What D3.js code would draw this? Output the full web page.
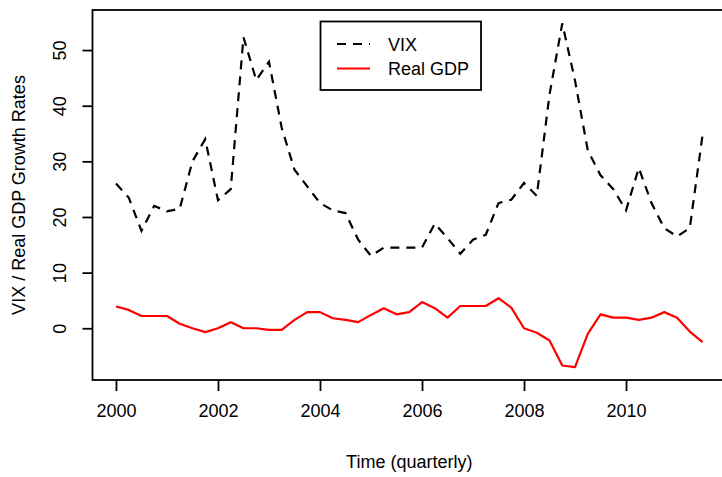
<!DOCTYPE html>
<html>
<head>
<meta charset="utf-8">
<script src="https://cdn.jsdelivr.net/npm/d3@7"></script>
<style>
body { margin: 0; background: #fff; }
text { font-family: "Liberation Sans", Arial, sans-serif; fill: #000; }
</style>
</head>
<body>
<div id="chart"></div>
<script>
// quarterly series, first value is 2000 Q1
var startYear = 2000;
var vix = [26.0, 23.5, 17.5, 22.0, 21.0, 21.5, 30.0, 34.0, 23.0, 25.0,
           52.3, 44.6, 47.9, 36.0, 28.5, 25.5, 22.5, 21.2, 20.7, 15.9,
           13.0, 14.5, 14.5, 14.5, 14.5, 18.8, 16.2, 13.4, 15.9, 16.8,
           22.5, 23.1, 26.1, 23.8, 42.0, 54.8, 44.5, 32.0, 27.5, 25.0,
           21.2, 28.8, 22.5, 18.0, 16.5, 18.0, 34.7];
var gdp = [3.9, 3.3, 2.2, 2.2, 2.2, 0.8, 0.0, -0.7, 0.0, 1.1,
           0.0, 0.0, -0.3, -0.3, 1.5, 2.9, 2.9, 1.8, 1.5, 1.1,
           2.4, 3.6, 2.5, 2.9, 4.7, 3.6, 1.9, 4.0, 4.0, 4.0,
           5.4, 3.7, 0.0, -0.8, -2.2, -6.7, -7.0, -1.0, 2.5, 1.9,
           1.9, 1.5, 1.9, 2.9, 1.9, -0.6, -2.5];
var xTicks = [2000, 2002, 2004, 2006, 2008, 2010];
var yTicks = [0, 10, 20, 30, 40, 50];
var seriesNames = ["VIX", "Real GDP"];

function init() {
    var w = 722;
    var h = 477;
    var left = 92.5, top = 10, right = 726, bottom = 380;

    var svg = d3.select("#chart")
        .append("svg")
        .attr("width", w)
        .attr("height", h);

    var times = vix.map(function(d, i) { return startYear + i / 4; });

    // R style: data range widened by 4% on each side
    var xExt = d3.extent(times);
    var pad = (xExt[1] - xExt[0]) * 0.04;
    var x = d3.scaleLinear()
        .domain([xExt[0] - pad, xExt[1] + pad])
        .range([left, right]);
    var y = d3.scaleLinear()
        .domain([-9.3, 57.2])
        .range([bottom, top]);

    var line = function(vals) {
        return d3.line()
            .x(function(d, i) { return x(times[i]); })
            .y(function(d) { return y(d); })(vals);
    };

    svg.append("path")
        .attr("d", line(vix))
        .attr("fill", "none")
        .attr("stroke", "#000")
        .attr("stroke-width", 2.2)
        .attr("stroke-dasharray", "9,7");

    svg.append("path")
        .attr("d", line(gdp))
        .attr("fill", "none")
        .attr("stroke", "#ff0000")
        .attr("stroke-width", 2.2)
        .attr("stroke-linejoin", "round");

    // box
    svg.append("rect")
        .attr("x", left)
        .attr("y", top)
        .attr("width", right - left)
        .attr("height", bottom - top)
        .attr("fill", "none")
        .attr("stroke", "#000")
        .attr("stroke-width", 1.8);

    var xAxis = svg.append("g")
        .attr("transform", "translate(0," + bottom + ")")
        .call(d3.axisBottom(x).tickValues(xTicks).tickSize(11).tickPadding(13).tickFormat(d3.format("d")));
    xAxis.select(".domain").remove();
    xAxis.selectAll("line").attr("stroke-width", 1.8);
    xAxis.selectAll("text").attr("font-size", 18).attr("font-family", null);

    var yAxis = svg.append("g")
        .attr("transform", "translate(" + left + ",0)")
        .call(d3.axisLeft(y).tickValues(yTicks).tickSize(10));
    yAxis.select(".domain").remove();
    yAxis.selectAll("line").attr("stroke-width", 1.8);
    yAxis.selectAll("text")
        .attr("font-size", 18)
        .attr("font-family", null)
        .attr("x", null)
        .attr("dy", null)
        .attr("text-anchor", "middle")
        .attr("transform", "translate(-27,0) rotate(-90)");

    svg.append("text")
        .attr("x", x(2005.75))
        .attr("y", 468)
        .attr("text-anchor", "middle")
        .attr("font-size", 18)
        .text("Time (quarterly)");

    svg.append("text")
        .attr("transform", "translate(25," + ((top + bottom) / 2) + ") rotate(-90)")
        .attr("text-anchor", "middle")
        .attr("font-size", 18)
        .text("VIX / Real GDP Growth Rates");

    // legend
    var lg = svg.append("g");
    lg.append("rect")
        .attr("x", 320.5)
        .attr("y", 21.5)
        .attr("width", 160.5)
        .attr("height", 68.5)
        .attr("fill", "#fff")
        .attr("stroke", "#000")
        .attr("stroke-width", 1.8);
    var styles = [
        { color: "#000", dash: "9,7", y: 44 },
        { color: "#ff0000", dash: null, y: 68.5 }
    ];
    seriesNames.forEach(function(name, i) {
        lg.append("line")
            .attr("x1", 337).attr("x2", 370)
            .attr("y1", styles[i].y).attr("y2", styles[i].y)
            .attr("stroke", styles[i].color)
            .attr("stroke-width", 2.2)
            .attr("stroke-dasharray", styles[i].dash);
        lg.append("text")
            .attr("x", 388)
            .attr("y", styles[i].y + 6.5)
            .attr("font-size", 18)
            .text(name);
    });
}

window.onload = init;
</script>
</body>
</html>
